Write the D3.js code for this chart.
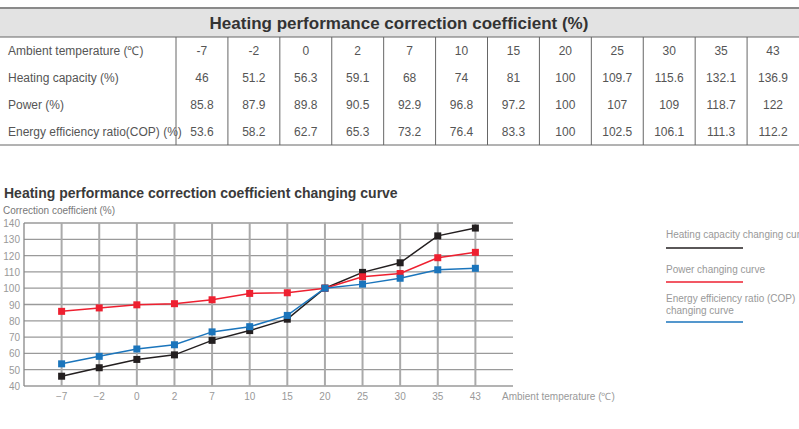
<!DOCTYPE html>
<html><head><meta charset="utf-8">
<script src="https://cdn.jsdelivr.net/npm/d3@7/dist/d3.min.js"></script>
<style>body{margin:0;background:#fff}svg{display:block;font-family:"Liberation Sans",Arial,sans-serif}</style>
</head><body><svg id="c" width="799" height="429"></svg>
<script>
const temps = ["-7","-2","0","2","7","10","15","20","25","30","35","43"];
const heating = [46,51.2,56.3,59.1,68,74,81,100,109.7,115.6,132.1,136.9];
const power = [85.8,87.9,89.8,90.5,92.9,96.8,97.2,100,107,109,118.7,122];
const cop = [53.6,58.2,62.7,65.3,73.2,76.4,83.3,100,102.5,106.1,111.3,112.2];
const yTicks = [40,50,60,70,80,90,100,110,120,130,140];
const rowLabels = ["Ambient temperature (℃)","Heating capacity (%)","Power (%)","Energy efficiency ratio(COP) (%)"];
const series = [
  {name:"Heating capacity changing curve", values:heating, color:"#231f20"},
  {name:"Power changing curve", values:power, color:"#ee2030"},
  {name:"Energy efficiency ratio (COP)|changing curve", values:cop, color:"#1b75bc"}
];

const svg = d3.select("#c");
const tb = svg.append("g");
tb.append("rect").attr("x",0).attr("y",8).attr("width",799).attr("height",29).attr("fill","#e3e3e3");
tb.append("line").attr("x1",0).attr("x2",799).attr("y1",8).attr("y2",8).attr("stroke","#8a8a8a").attr("stroke-width",2);
tb.append("line").attr("x1",0).attr("x2",799).attr("y1",37).attr("y2",37).attr("stroke","#666").attr("stroke-width",1);
tb.append("line").attr("x1",0).attr("x2",799).attr("y1",145).attr("y2",145).attr("stroke","#666").attr("stroke-width",1);
tb.append("text").attr("x",399).attr("y",29).attr("text-anchor","middle").attr("font-size",17).attr("font-weight","bold").attr("fill","#333")
  .text("Heating performance correction coefficient (%)");
const colX = d3.scaleBand().domain(temps).range([176,799]);
const rowY = d3.scaleBand().domain(d3.range(4)).range([37,145]);
temps.forEach(t=>tb.append("line").attr("x1",colX(t)).attr("x2",colX(t)).attr("y1",37).attr("y2",145).attr("stroke","#666"));
const rows=[temps,heating,power,cop];
rows.forEach((r,i)=>{
  const y=rowY(i)+rowY.bandwidth()/2+4;
  tb.append("text").attr("x",8).attr("y",y).attr("font-size",12).attr("fill","#555").text(rowLabels[i]);
  r.forEach((v,j)=>tb.append("text").attr("x",colX(temps[j])+colX.bandwidth()/2).attr("y",y).attr("text-anchor","middle").attr("font-size",12).attr("fill","#555").text(v));
});
svg.append("text").attr("x",4).attr("y",198).attr("font-size",14).attr("font-weight","bold").attr("fill","#3a3a3a").text("Heating performance correction coefficient changing curve");
svg.append("text").attr("x",3).attr("y",214).attr("font-size",10).attr("fill","#777").text("Correction coefficient (%)");
const L=24,R=513,T=223,B=386;
const x=d3.scalePoint().domain(temps).range([L,R]).padding(1);
const y=d3.scaleLinear().domain([40,140]).range([B,T]);
const g=svg.append("g");
yTicks.forEach(v=>{
  g.append("line").attr("x1",L).attr("x2",R).attr("y1",y(v)).attr("y2",y(v)).attr("stroke","#9a9a9a").attr("stroke-width",1.3);
  g.append("text").attr("x",20).attr("y",y(v)+4).attr("text-anchor","end").attr("font-size",10).attr("fill","#999").text(v);
});
temps.forEach(t=>{
  g.append("line").attr("x1",x(t)).attr("x2",x(t)).attr("y1",T).attr("y2",B).attr("stroke","#aaa").attr("stroke-width",2);
  g.append("text").attr("x",x(t)).attr("y",400).attr("text-anchor","middle").attr("font-size",10).attr("fill","#999").text(t.replace("-","−"));
});
g.append("line").attr("x1",L).attr("x2",L).attr("y1",T).attr("y2",B).attr("stroke","#888").attr("stroke-width",1.3);
svg.append("text").attr("x",502).attr("y",400).attr("font-size",10).attr("fill","#999").text("Ambient temperature (℃)");
const line=d3.line().x((d,i)=>x(temps[i])).y(d=>y(d));
series.forEach(s=>{
  svg.append("path").attr("d",line(s.values)).attr("fill","none").attr("stroke",s.color).attr("stroke-width",1.5);
  s.values.forEach((v,i)=>svg.append("rect").attr("x",x(temps[i])-3.5).attr("y",y(v)-3.5).attr("width",7).attr("height",7).attr("fill",s.color));
});
const lg=[{ty:[238],ly:248},{ty:[273],ly:282},{ty:[302,314],ly:322}];
series.forEach((s,i)=>{
  s.name.split("|").forEach((t,k)=>svg.append("text").attr("x",666).attr("y",lg[i].ty[k]).attr("font-size",10).attr("fill","#999").text(t));
  svg.append("line").attr("x1",666).attr("x2",743).attr("y1",lg[i].ly).attr("y2",lg[i].ly).attr("stroke",s.color).attr("stroke-width",1.5);
});
</script></body></html>
